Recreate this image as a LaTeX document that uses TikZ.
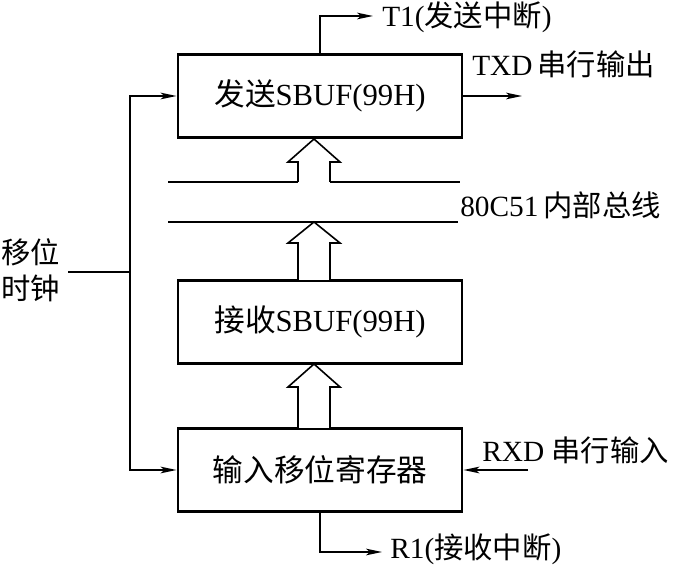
\documentclass[tikz,border=0pt]{standalone}
\usepackage{fontspec}
\setmainfont{Liberation Serif}
\newfontfamily\cjk{Noto Sans CJK SC}
\usetikzlibrary{arrows.meta}
\begin{document}
\begin{tikzpicture}[x=0.75pt,y=-0.75pt,
  box/.style={draw,line width=2.2pt,minimum width=213pt,minimum height=62pt,inner sep=0pt,font=\fontsize{23}{27}\selectfont},
  lbl/.style={anchor=west,inner sep=0pt,font=\fontsize{22}{26}\selectfont},
  wire/.style={line width=1.2pt},
  arr/.style={wire,-{Stealth[length=12pt,width=5pt,inset=3pt]}},
  blk/.style={line width=1.2pt,fill=white,line join=miter}]
\useasboundingbox (0,0) rectangle (675,566);
% boxes
\node[box] (tx)  at (320,96)  {{\cjk 发送}SBUF(99H)};
\node[box] (rx)  at (320,322) {{\cjk 接收}SBUF(99H)};
\node[box] (rsr) at (320,470) {\cjk 输入移位寄存器};
% labels
\node[lbl] (t1)  at (382,17)  {T1({\cjk 发送中断})};
\node[lbl] (txd) at (472,64)  {TXD\,{\cjk 串行输出}};
\node[lbl] (bus) at (460,205) {80C51\,{\cjk 内部总线}};
\node[lbl] (rxd) at (482,450) {RXD {\cjk 串行输入}};
\node[lbl] (r1)  at (390,549) {R1({\cjk 接收中断})};
\node[inner sep=0pt,align=center,font=\fontsize{22}{27}\selectfont\cjk] (clkt) at (31,270) {移位\\时钟};
% coordinates
\coordinate (clkL) at (68,272);
\coordinate (clk)  at (130,272);
\coordinate (t1c)  at (373,16);
\coordinate (txo)  at (522,96);
\coordinate (rxin) at (528,470);
\coordinate (r1c)  at (382,552);
% connectors
\draw[wire] (clkL) -- (clk);
\draw[arr] (clk) |- (tx.west);
\draw[arr] (clk) |- (rsr.west);
\draw[arr] (tx.north) |- (t1c);
\draw[arr] (tx.east) -- (txo);
\draw[arr] (rxin) -- (rsr.east);
\draw[arr] (rsr.south) |- (r1c);
% bus lines
\draw[wire] (168,182) -- (298,182);
\draw[wire] (330,182) -- (460,182);
\draw[wire] (168,222) -- (458,222);
% block arrows
\draw[blk] (298,182) -- (298,162) -- (288,162) -- (314,139) -- (340,162) -- (330,162) -- (330,182);
\draw[blk] (298,280) -- (298,243) -- (288,243) -- (314,222) -- (340,243) -- (330,243) -- (330,280);
\draw[blk] (298,428) -- (298,387) -- (288,387) -- (314,364) -- (340,387) -- (330,387) -- (330,428);
\end{tikzpicture}
\end{document}
